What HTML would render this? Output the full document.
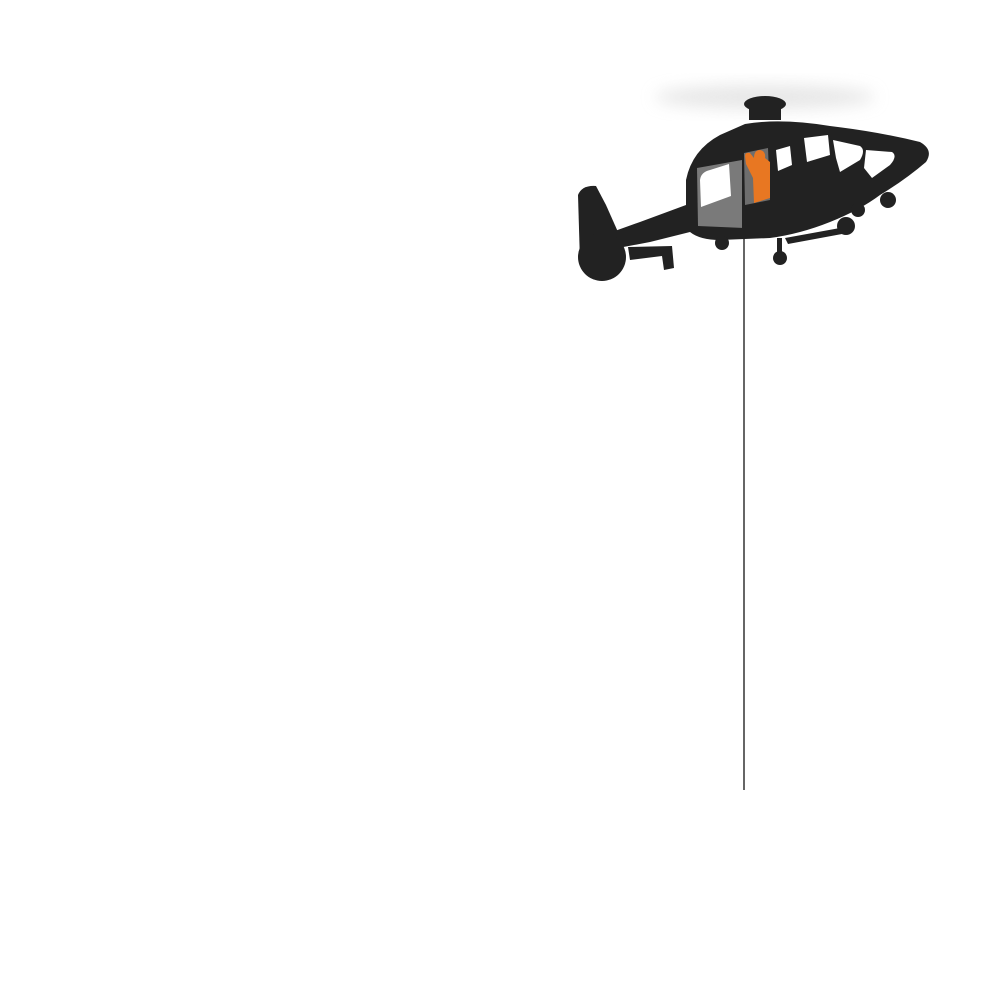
<!DOCTYPE html>
<html><head><style>html,body{margin:0;background:#fff;width:1000px;height:1000px;overflow:hidden}</style></head>
<body>
<svg width="1000" height="1000" viewBox="0 0 1000 1000" xmlns="http://www.w3.org/2000/svg">
<defs>
<filter id="b" x="-50%" y="-50%" width="200%" height="200%"><feGaussianBlur stdDeviation="8"/></filter>
</defs>
<ellipse cx="765" cy="97" rx="110" ry="12" fill="#ddd" filter="url(#b)" opacity="0.7"/>
<line x1="744" y1="235" x2="744" y2="790" stroke="#333" stroke-width="1.5"/>
<g fill="#222">
<ellipse cx="765" cy="104" rx="21" ry="8"/>
<rect x="749" y="104" width="32" height="16"/>
<path d="M686,180 Q692,150 720,135 L745,124 Q780,118 830,126 Q880,132 920,142 Q934,150 926,162 Q905,180 880,195 Q860,210 830,222 Q800,234 770,238 L720,240 Q700,240 690,232 L650,242 L618,248 L612,232 L640,222 L686,205 Z"/>
<path d="M578,195 Q582,185 596,186 L606,205 L618,232 L612,262 L592,275 L580,262 Z"/>
<circle cx="602" cy="257" r="24"/>
<path d="M628,247 L672,246 L674,268 L664,270 L662,256 L630,260 Z"/>
<circle cx="722" cy="243" r="7"/>
<circle cx="780" cy="258" r="7"/>
<rect x="777" y="238" width="5" height="16"/>
<circle cx="846" cy="226" r="9"/>
<circle cx="888" cy="200" r="8"/>
<circle cx="858" cy="210" r="7"/>
<path d="M785,238 L840,228 L842,234 L788,244 Z"/>
</g>
<path d="M697,168 L742,160 L744,228 L698,226 Z" fill="#7a7a7a"/>
<path d="M700,180 Q701,172 710,170 L729,164 L731,196 L701,207 Z" fill="#fff"/>
<path d="M744,153 L768,148 L770,200 L745,205 Z" fill="#6e6e6e"/>
<path d="M745,156 Q745,152 750,153 L754,158 Q754,150 760,150 Q766,151 765,158 L770,162 L770,198 L754,203 L753,178 L746,164 Z" fill="#e87722"/>
<line x1="743" y1="158" x2="743" y2="228" stroke="#222" stroke-width="2"/>
<path d="M776,150 L790,146 L792,165 L778,171 Z" fill="#fff"/>
<path d="M804,138 L828,135 L830,155 L807,162 Z" fill="#fff"/>
<path d="M833,140 L860,146 Q866,150 860,160 L840,172 L836,158 Z" fill="#fff"/>
<path d="M866,150 L892,152 Q898,156 890,165 L872,178 L864,168 Z" fill="#fff"/>
</svg>
</body></html>
